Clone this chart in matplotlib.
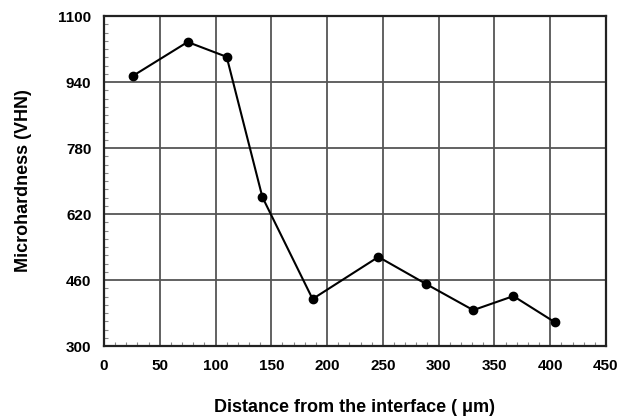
import matplotlib
matplotlib.use("Agg")
import matplotlib.pyplot as plt
from matplotlib.ticker import MultipleLocator

plt.rcParams['font.family'] = ['Liberation Sans', 'DejaVu Sans']

# Microhardness profile across the interface
distance_um = [26, 75, 110, 142, 187, 246, 289, 331, 367, 404]
hardness_vhn = [955, 1037, 1001, 661, 414, 516, 450, 387, 421, 358]

x_ticks = [0, 50, 100, 150, 200, 250, 300, 350, 400, 450]
y_ticks = [300, 460, 620, 780, 940, 1100]

fig = plt.figure(figsize=(6.29, 4.18), dpi=100)
ax = fig.add_axes([0.1653, 0.1722, 0.7981, 0.7895])

ax.set_xlim(0, 450)
ax.set_ylim(300, 1100)
ax.set_xticks(x_ticks)
ax.set_yticks(y_ticks)
ax.xaxis.set_minor_locator(MultipleLocator(10))
ax.yaxis.set_minor_locator(MultipleLocator(20))

ax.grid(True, which='major', color='#555555', linewidth=1.3)
ax.set_axisbelow(True)

ax.plot(distance_um, hardness_vhn, color='black', linewidth=1.5,
        marker='o', markersize=6, markerfacecolor='black', zorder=3)

for s in ax.spines.values():
    s.set_linewidth(1.6)
    s.set_color('#222222')

ax.tick_params(which='both', direction='in', top=False, right=False)
ax.tick_params(which='major', length=0, pad=9, labelsize=11)
ax.tick_params(which='minor', length=3, width=0.8, color='#888888')
for lbl in ax.get_xticklabels() + ax.get_yticklabels():
    lbl.set_fontweight('bold')

ax.set_xlabel('Distance from the interface ( \u03bcm)', fontsize=13,
              fontweight='bold', labelpad=19)
ax.set_ylabel('Microhardness (VHN)', fontsize=13, fontweight='bold',
              labelpad=19)

fig.savefig('out.png', dpi=100, facecolor='white')
